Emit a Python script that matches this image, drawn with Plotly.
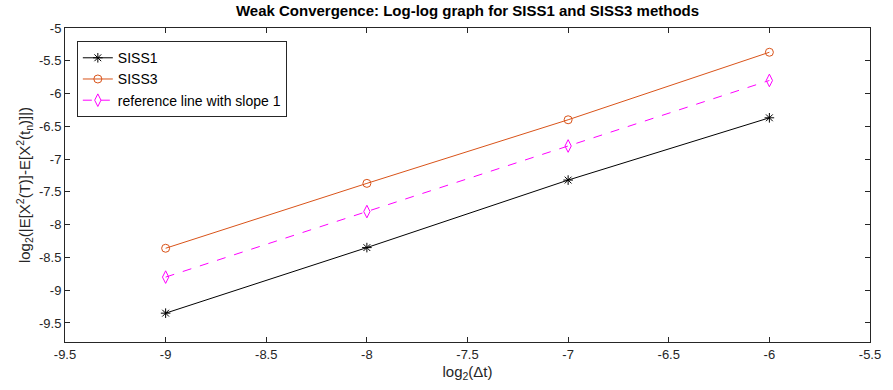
import plotly.graph_objects as go

# log2 of step sizes
log_dt = [-9, -8, -7, -6]

# log2 of weak errors for each scheme
siss1 = [-9.35, -8.35, -7.32, -6.37]
siss3 = [-8.36, -7.37, -6.40, -5.37]
ref_slope1 = [-8.80, -7.80, -6.80, -5.80]

x_ticks = [-9.5, -9, -8.5, -8, -7.5, -7, -6.5, -6, -5.5]
y_ticks = [-9.5, -9, -8.5, -8, -7.5, -7, -6.5, -6, -5.5, -5]

FONT = "Liberation Sans, Arial"


def fmt(v):
    return ("%g" % v)


fig = go.Figure()
fig.add_trace(go.Scatter(
    x=log_dt, y=siss1, mode="lines+markers", name="SISS1",
    line=dict(color="#000000", width=1),
    marker=dict(symbol="asterisk-open", size=8, color="#000000",
                line=dict(color="#000000", width=1)),
))
fig.add_trace(go.Scatter(
    x=log_dt, y=siss3, mode="lines+markers", name="SISS3",
    line=dict(color="#D95319", width=1),
    marker=dict(symbol="circle-open", size=8, color="#D95319",
                line=dict(color="#D95319", width=1)),
))
fig.add_trace(go.Scatter(
    x=log_dt, y=ref_slope1, mode="lines+markers", name="reference line with slope 1",
    line=dict(color="#FF00FF", width=1, dash="dash"),
    marker=dict(symbol="diamond-tall-open", size=9, color="#FF00FF",
                line=dict(color="#FF00FF", width=1)),
))

axis_common = dict(
    showline=True, linecolor="#262626", linewidth=1, mirror="allticks",
    ticks="inside", ticklen=5, tickcolor="#262626", showgrid=False,
    zeroline=False, tickfont=dict(family=FONT, size=13, color="#262626"),
)

fig.update_layout(
    width=893, height=390,
    margin=dict(l=65, r=13, t=28, b=48),
    paper_bgcolor="white", plot_bgcolor="white",
    font=dict(family=FONT, size=13, color="#262626"),
    title=dict(
        text="<b>Weak Convergence: Log-log graph for SISS1 and SISS3 methods</b>",
        xref="paper", x=0.5, xanchor="center",
        yref="container", y=0.985, yanchor="top",
        font=dict(family=FONT, size=15, color="#000000"),
    ),
    xaxis=dict(
        range=[-9.5, -5.5], tickvals=x_ticks, ticktext=[fmt(v) for v in x_ticks],
        title=dict(text="log<sub>2</sub>(Δt)", standoff=5,
                   font=dict(family=FONT, size=15, color="#262626")),
        **axis_common,
    ),
    yaxis=dict(
        range=[-9.79, -5], tickvals=y_ticks, ticktext=[fmt(v) for v in y_ticks],
        title=dict(text="log<sub>2</sub>(|E[X<sup>2</sup>(T)]-E[X<sup>2</sup>(t<sub>n</sub>)]|)",
                   standoff=4,
                   font=dict(family=FONT, size=15, color="#262626")),
        **axis_common,
    ),
    legend=dict(
        x=0.0147, y=0.958, xanchor="left", yanchor="top",
        bgcolor="white", bordercolor="#262626", borderwidth=1,
        font=dict(family=FONT, size=14, color="#000000"),
        tracegroupgap=0, itemwidth=30,
    ),
    showlegend=True,
)

fig.write_html("out.html")
